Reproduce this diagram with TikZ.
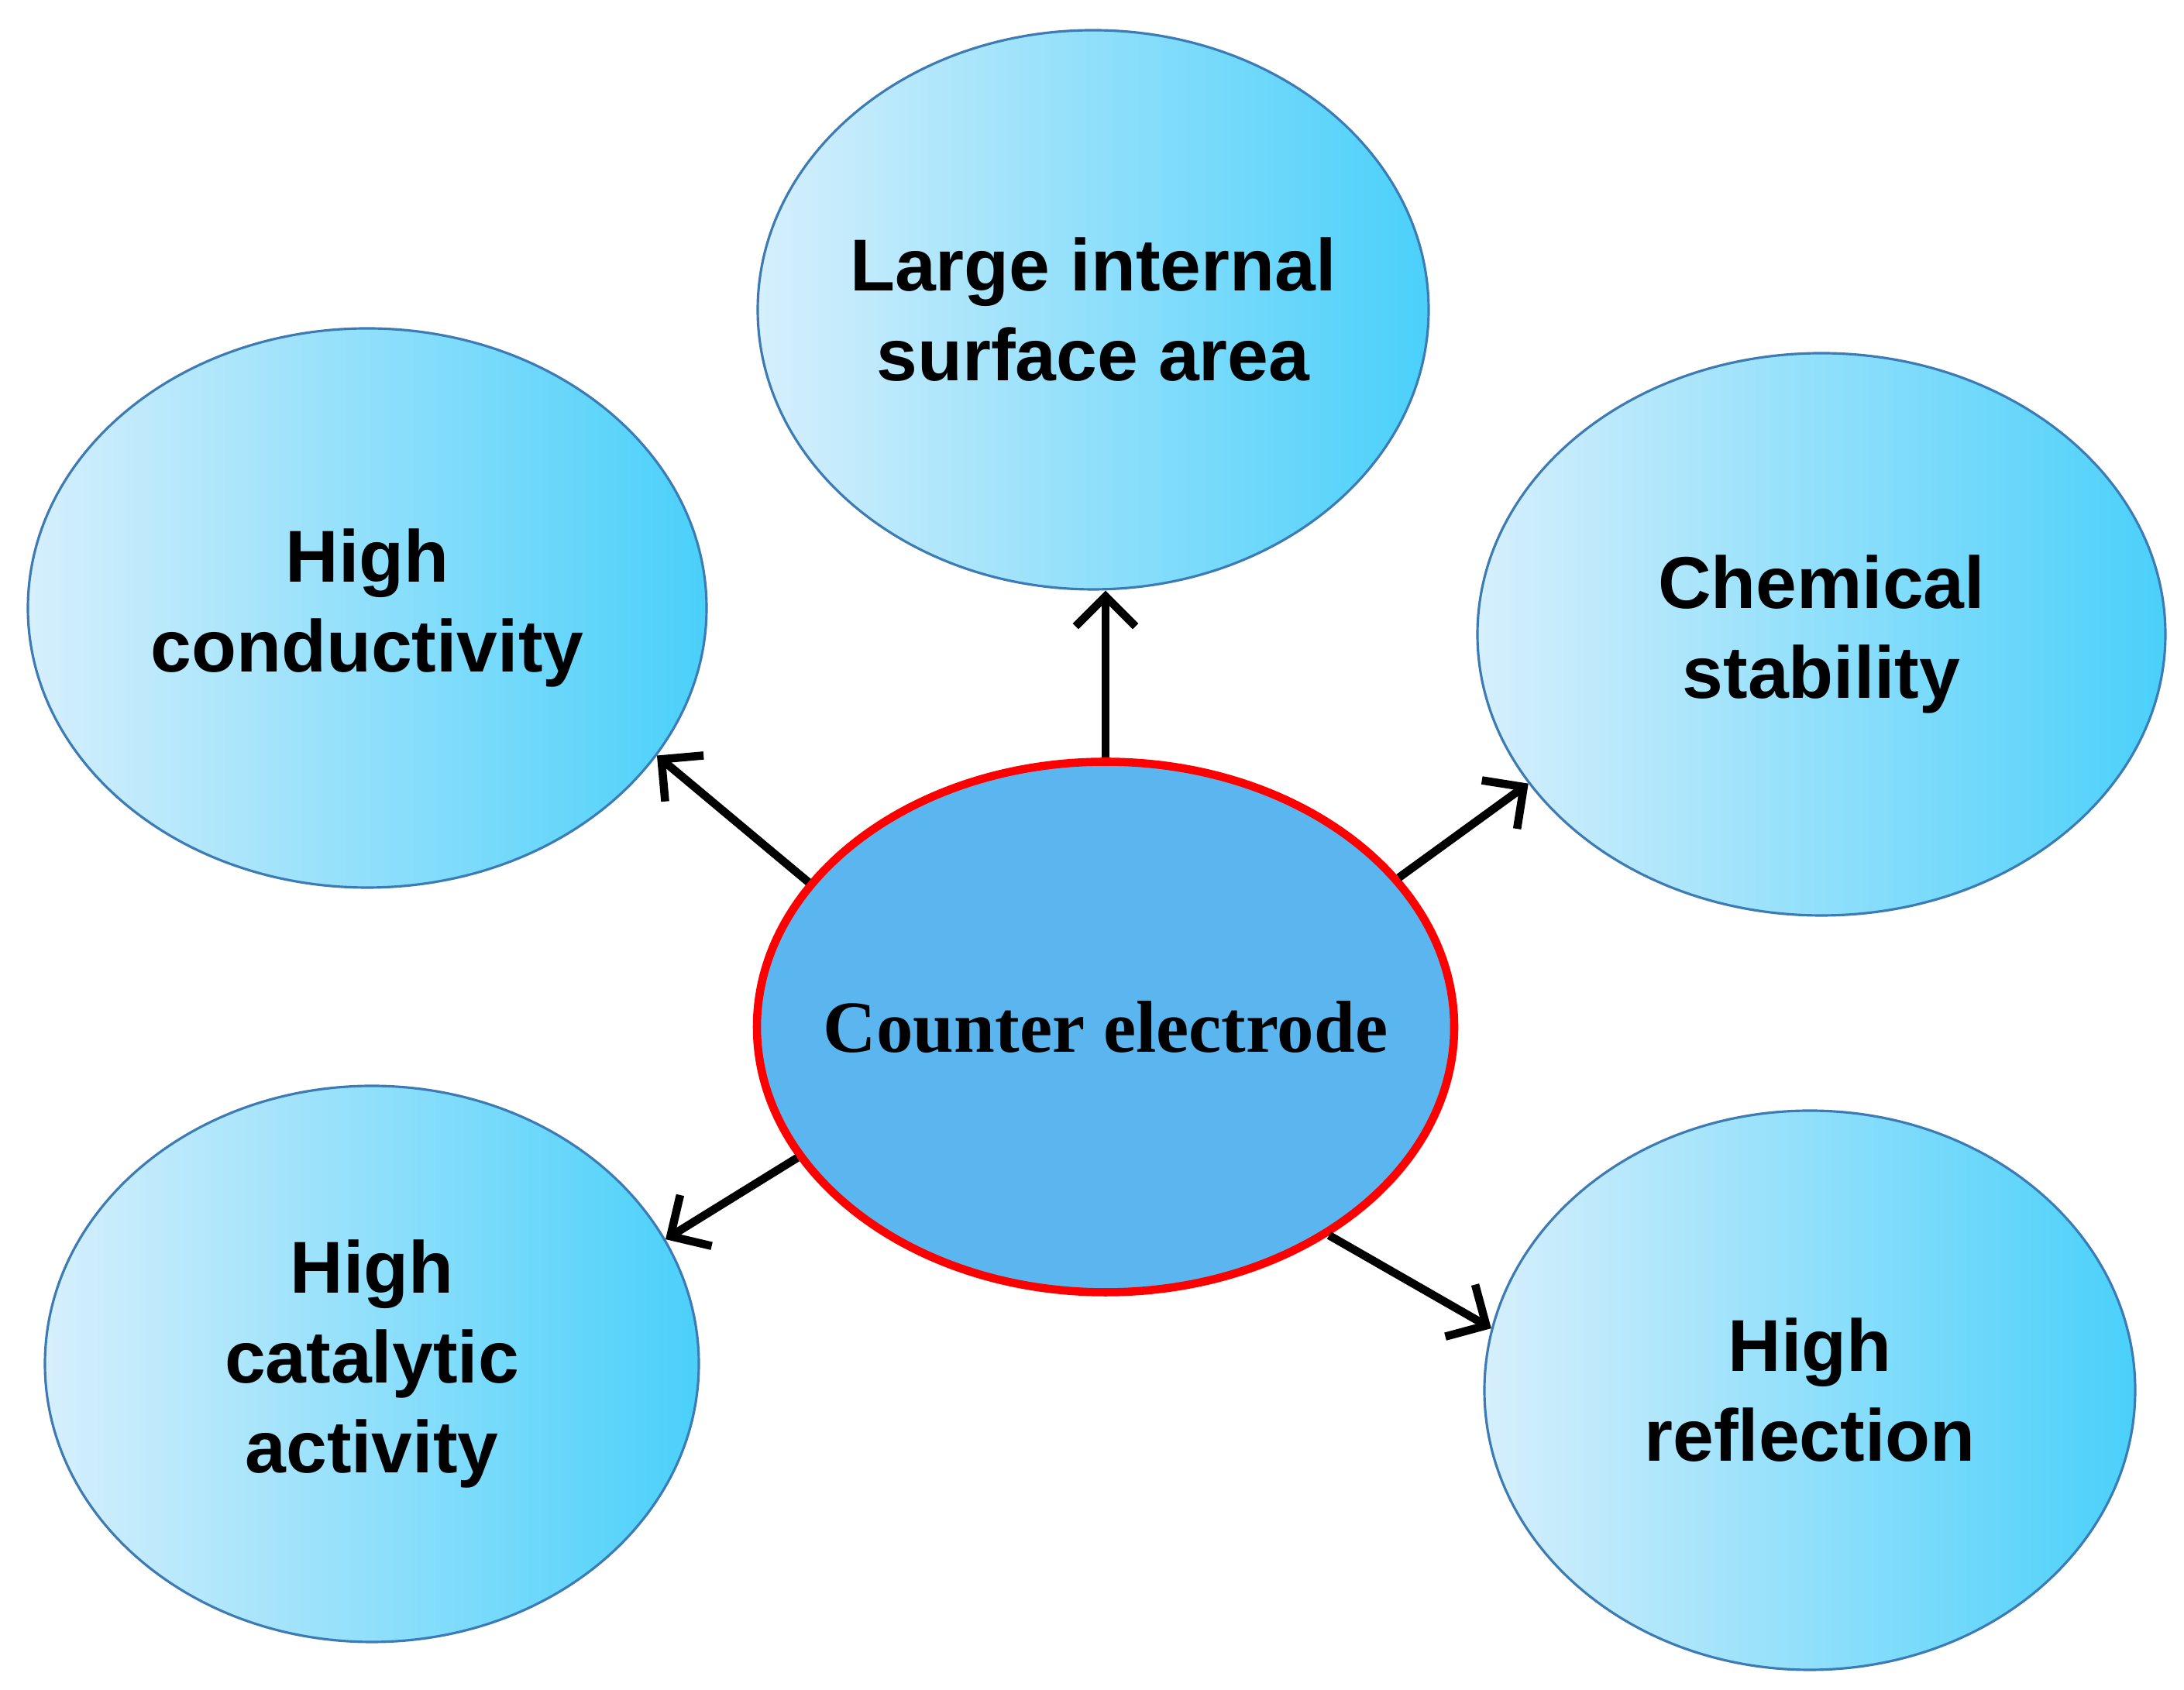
\documentclass[tikz,border=0pt]{standalone}
\usepackage{fontspec}
\setmainfont{Liberation Sans}
\newfontfamily\serifbf{Liberation Serif}
\usetikzlibrary{shapes.geometric,arrows.meta,calc}
\definecolor{satL}{RGB}{214,239,252}
\definecolor{satR}{RGB}{74,208,250}
\definecolor{satB}{RGB}{61,123,181}
\definecolor{cen}{RGB}{91,181,238}
\begin{document}
\begin{tikzpicture}[
  sat/.style={ellipse, draw=satB, line width=0.9pt,
    left color=satL, right color=satR, inner sep=0pt},
  txt/.style={align=center, font=\fontsize{27}{33}\selectfont\bfseries},
  arr/.style={line width=3pt, -{Straight Barb[length=11pt,width=22pt,line width=3pt]}}
]
\useasboundingbox (0,0) rectangle (28.19,21.82);
\node[sat, minimum width=8.66cm, minimum height=7.22cm,
  label={[txt]center:Large internal\\surface area}] (t) at (14.11,17.82) {};
\node[sat, minimum width=8.76cm, minimum height=7.22cm,
  label={[txt]center:High\\conductivity}] (l) at (4.74,13.97) {};
\node[sat, minimum width=8.88cm, minimum height=7.26cm,
  label={[txt]center:Chemical\\stability}] (r) at (23.51,13.63) {};
\node[sat, minimum width=8.44cm, minimum height=7.18cm,
  label={[txt]center:High\\catalytic\\activity}] (bl) at (4.80,4.21) {};
\node[sat, minimum width=8.40cm, minimum height=7.22cm,
  label={[txt]center:High\\reflection}] (br) at (23.36,3.87) {};
\node[ellipse, draw=red, line width=3pt, fill=cen, minimum width=9.0cm, minimum height=6.85cm, inner sep=0pt,
  label={[font=\fontsize{27}{32}\selectfont\serifbf\bfseries]center:Counter electrode}] (c) at (14.27,8.56) {};
\draw[arr] (c.north) -- (c.north |- t.south);
\draw[arr] (c.154) -- (l.333);
\draw[arr] (c.27) -- (r.207);
\draw[arr] (c.203) -- (bl.23);
\draw[arr] (c.317) -- (br.169);
\end{tikzpicture}
\end{document}
